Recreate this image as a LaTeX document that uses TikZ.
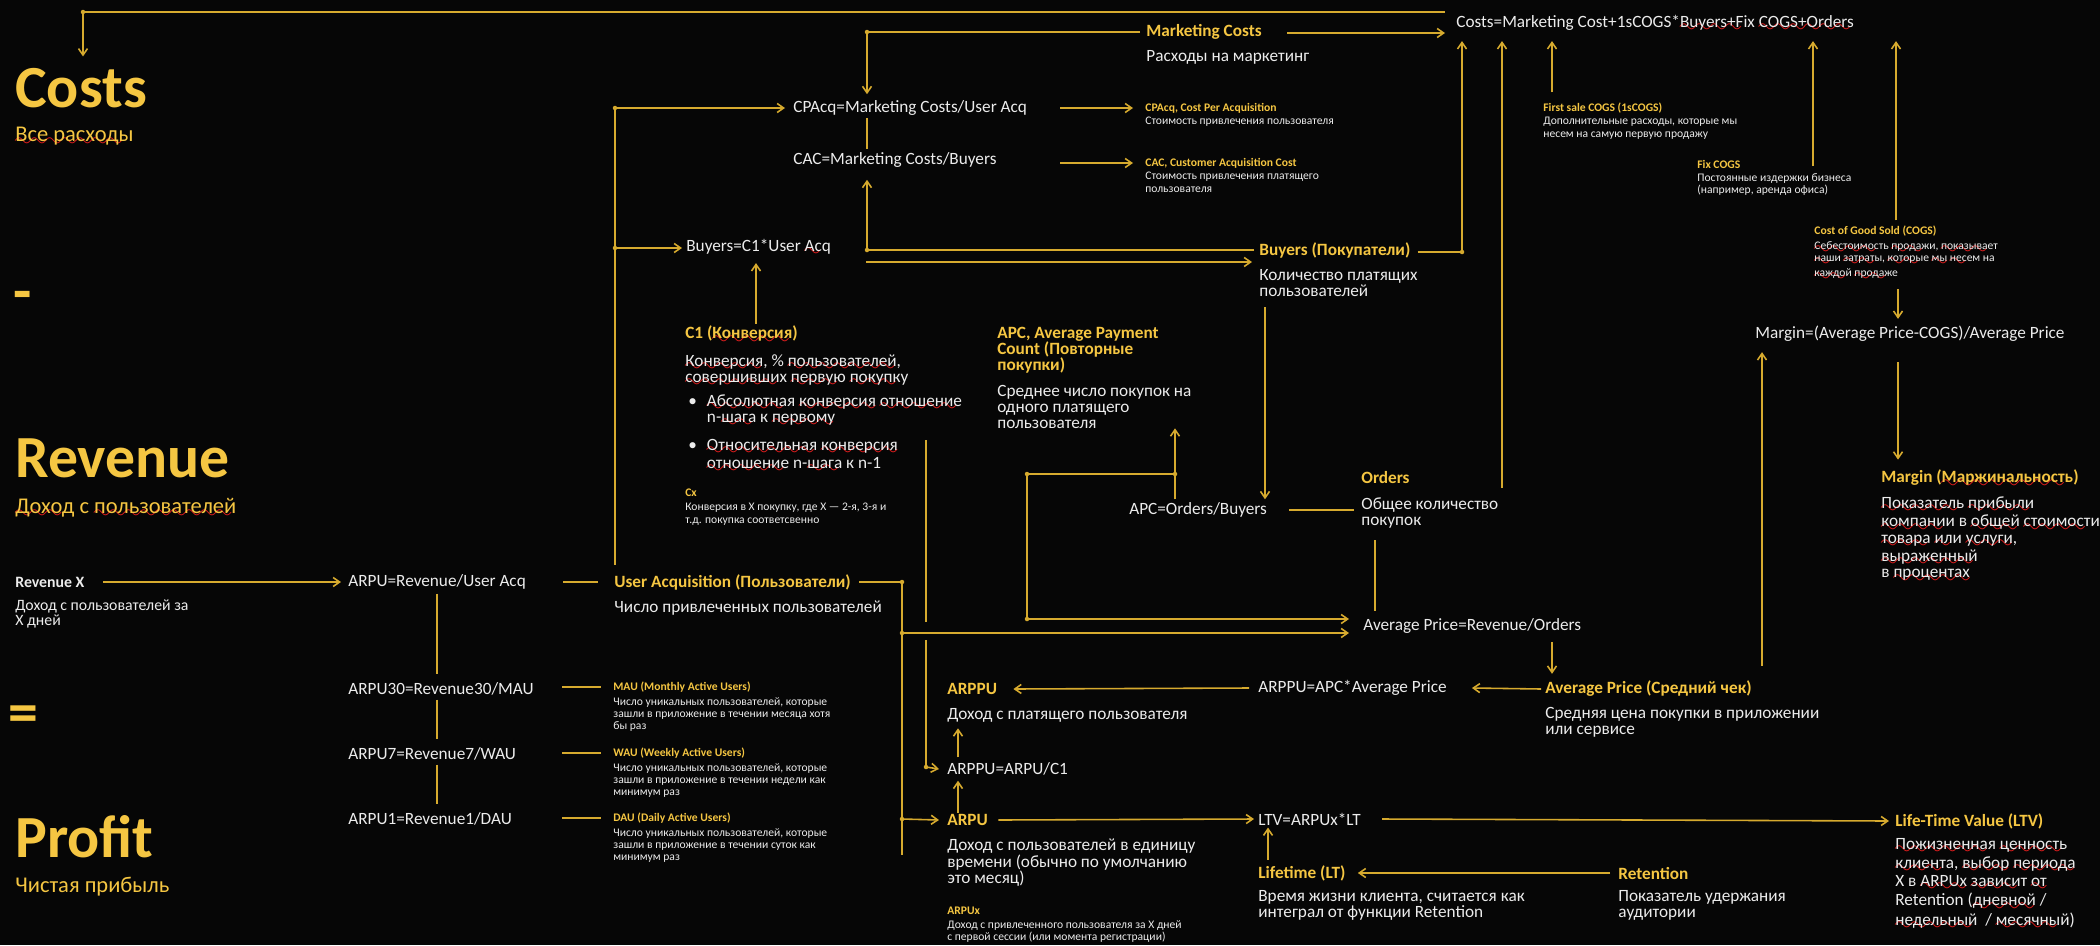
\documentclass[tikz,border=0pt]{standalone}
\usepackage{fontspec}
\setmainfont{Carlito}
\usetikzlibrary{arrows.meta,calc}
\definecolor{bgc}{RGB}{6,6,6}
\definecolor{gold}{RGB}{245,198,66}
\definecolor{goldln}{RGB}{214,170,46}
\definecolor{txt}{RGB}{236,236,236}
\definecolor{spell}{RGB}{230,30,30}
\font\wavyfont=lasy10 at 13pt
\newcommand\spk[1]{\setbox0\hbox{#1}\rlap{\textcolor{spell}{\lower3pt\hbox to\wd0{\leaders\hbox{\wavyfont\char58}\hfil}}}\box0\relax}
\tikzset{
  hd/.style    = {anchor=base west, inner sep=0pt, text=gold,
                  font=\fontsize{34}{36}\selectfont\bfseries},
  hdsub/.style = {anchor=base west, inner sep=0pt, text=gold,
                  font=\fontsize{12.8}{14}\selectfont},
  fm/.style    = {anchor=west, inner sep=0pt, text=txt,
                  font=\fontsize{9.8}{9.2}\selectfont},
  ttl/.style   = {fm, text=gold, font=\fontsize{9.8}{9.2}\selectfont\bfseries},
  dsc/.style   = {anchor=north west, inner sep=0pt, text=txt, align=left,
                  font=\fontsize{9.8}{9.2}\selectfont},
  ttlm/.style  = {dsc, text=gold, font=\fontsize{9.8}{9.2}\selectfont\bfseries},
  rx/.style    = {fm, font=\fontsize{9}{7.4}\selectfont\bfseries},
  rxd/.style   = {dsc, font=\fontsize{9}{7.4}\selectfont},
  nttl/.style  = {fm, text=gold, font=\fontsize{6.6}{7}\selectfont\bfseries},
  ndsc/.style  = {dsc, font=\fontsize{6.6}{7}\selectfont},
  edg/.style   = {draw=goldln, line width=0.9pt},
  arr/.style   = {edg, -{Straight Barb[length=1.3mm,width=1.8mm]}},
}
\begin{document}
\begin{tikzpicture}[x=0.2mm, y=-0.2mm]
  \fill[bgc] (0,0) rectangle (2100,945);
  \useasboundingbox (0,0) rectangle (2100,945);

  % left headings
  \node[hd] (hcost) at (15,107) {Costs};
  \node[hdsub] (hcostd) at (15,141) {\spk{Все расходы}};
  \node[hd] (hminus) at (13,311) {-};
  \node[hd] (hrev) at (15,477) {Revenue};
  \node[hdsub] (hrevd) at (15,513) {\spk{Доход} \spk{с} \spk{пользователей}};
  \node[hd] (heq) at (8,732) {=};
  \node[hd] (hprof) at (15,857) {Profit};
  \node[hdsub] (hprofd) at (15,892) {Чистая прибыль};

  % costs side
  \node[fm] (cst) at (1456,24) {Costs=Marketing Cost+1sCOGS*\spk{Buyers+Fix} \spk{COGS+Orders}};
  \node[ttl] (mkt) at (1146,32) {Marketing Costs};
  \node[fm] (mktd) at (1146,57) {Расходы на маркетинг};
  \node[fm] (cpa) at (793,108) {CPAcq=Marketing Costs/User Acq};
  \node[fm] (cac) at (793,160) {CAC=Marketing Costs/Buyers};
  \node[nttl] (cpan) at (1145,108) {CPAcq, Cost Per Acquisition};
  \node[ndsc] (cpand) at (1145,117) {Стоимость привлечения пользователя};
  \node[nttl] (cacn) at (1145,163) {CAC, Customer Acquisition Cost};
  \node[ndsc] (cacnd) at (1145,172) {Стоимость привлечения платящего\\пользователя};
  \node[nttl] (fsc) at (1543,108) {First sale COGS (1sCOGS)};
  \node[ndsc] (fscd) at (1543,117) {Дополнительные расходы, которые мы\\несем на самую первую продажу};
  \node[nttl] (fix) at (1697,164) {Fix COGS};
  \node[ndsc] (fixd) at (1697,173) {Постоянные издержки бизнеса\\(например, аренда офиса)};
  \node[nttl] (cogs) at (1814,231) {Cost of Good Sold (COGS)};
  \node[ndsc] (cogsd) at (1814,241) {\spk{Себестоимость} \spk{продажи}, \spk{показывает}\\\spk{наши} \spk{затраты}, \spk{которые} \spk{мы} \spk{несем} \spk{на}\\\spk{каждой} \spk{продаже}};

  \node[fm] (byf) at (686,248) {Buyers=C1*User \spk{Acq}};
  \node[ttl] (buy) at (1259,250) {Buyers (Покупатели)};
  \node[dsc] (buyd) at (1259,269) {Количество платящих\\пользователей};

  \node[ttl] (c1) at (685,335) {C1 (\spk{Конверсия})};
  \node[dsc] (c1d) at (685,354) {\spk{Конверсия}, \% \spk{пользователей},\\\spk{совершивших} \spk{первую} \spk{покупку}};
  \node[dsc] (c1b) at (688,394) {\makebox[10.6pt][l]{\textbullet}\spk{Абсолютная} \spk{конверсия} \spk{отношение}\\
    \hspace*{10.6pt}n-\spk{шага} \spk{к} \spk{первому}\\[5.7pt]
    \makebox[10.6pt][l]{\textbullet}\spk{Относительная} \spk{конверсия}\\
    \hspace*{10.6pt}\spk{отношение} n-\spk{шага} \spk{к} n-1};
  \node[nttl] (cx) at (685,493) {Cx};
  \node[ndsc] (cxd) at (685,503) {Конверсия в X покупку, где X — 2-я, 3-я и\\т.д. покупка соответсвенно};

  \node[ttlm] (apc) at (997,327) {APC, Average Payment\\Count (Повторные\\покупки)};
  \node[dsc] (apcd) at (997,385) {Среднее число покупок на\\одного платящего\\пользователя};
  \node[fm] (apcf) at (1129,510) {APC=Orders/Buyers};
  \node[ttl] (ord) at (1361,478) {Orders};
  \node[dsc] (ordd) at (1361,497) {Общее количество\\покупок};
  \node[fm] (avpf) at (1363,626) {Average Price=Revenue/Orders};

  \node[fm] (mrgf) at (1755,334) {Margin=(Average Price-COGS)/Average Price};
  \node[ttl] (mrg) at (1881,479) {Margin (\spk{Маржинальность})};
  \node[dsc] (mrgd) at (1881,496) {\spk{Показатель} \spk{прибыли}\\\spk{компании} \spk{в} \spk{общей} \spk{стоимости}\\
    \spk{товара} \spk{или} \spk{услуги},\\\spk{выраженный}\\\spk{в} \spk{процентах}};

  % revenue side
  \node[rx] (revx) at (15,582) {Revenue X};
  \node[rxd] (revxd) at (15,599) {Доход с пользователей за\\X дней};
  \node[fm] (arpuf) at (348,582) {ARPU=Revenue/User Acq};
  \node[ttl] (ua) at (614,582) {User Acquisition (Пользователи)};
  \node[fm] (uad) at (614,608) {Число привлеченных пользователей};
  \node[fm] (arpu30) at (348,689) {ARPU30=Revenue30/MAU};
  \node[fm] (arpu7) at (348,754) {ARPU7=Revenue7/WAU};
  \node[fm] (arpu1) at (348,819) {ARPU1=Revenue1/DAU};
  \node[nttl] (mau) at (613,687) {MAU (Monthly Active Users)};
  \node[ndsc] (maud) at (613,697) {Число уникальных пользователей, которые\\зашли в приложение в течении месяца хотя\\бы раз};
  \node[nttl] (wau) at (613,753) {WAU (Weekly Active Users)};
  \node[ndsc] (waud) at (613,763) {Число уникальных пользователей, которые\\зашли в приложение в течении недели как\\минимум раз};
  \node[nttl] (dau) at (613,818) {DAU (Daily Active Users)};
  \node[ndsc] (daud) at (613,828) {Число уникальных пользователей, которые\\зашли в приложение в течении суток как\\минимум раз};

  \node[ttl] (arppu) at (947,689) {ARPPU};
  \node[fm] (arppud) at (947,715) {Доход с платящего пользователя};
  \node[fm] (arppuc) at (947,769) {ARPPU=ARPU/C1};
  \node[ttl] (arpu) at (947,820) {ARPU};
  \node[dsc] (arpud) at (947,839) {Доход с пользователей в единицу\\времени (обычно по умолчанию\\это месяц)};
  \node[nttl] (arpux) at (947,911) {ARPUx};
  \node[ndsc] (arpuxd) at (947,920) {Доход с привлеченного пользователя за X дней\\с первой сессии (или момента регистрации)};
  \node[fm] (arppuf) at (1258,688) {ARPPU=APC*Average Price};
  \node[ttl] (avp) at (1545,689) {Average Price (Средний чек)};
  \node[dsc] (avpd) at (1545,707) {Средняя цена покупки в приложении\\или сервисе};
  \node[fm] (ltvf) at (1258,819) {LTV=ARPUx*LT};
  \node[ttl] (ltv) at (1895,821) {Life-Time Value (LTV)};
  \node[dsc] (ltvd) at (1895,838) {\spk{Пожизненная} \spk{ценность}\\\spk{клиента}, \spk{выбор} \spk{периода}\\
    \spk{X} \spk{в} \spk{ARPUx} \spk{зависит} \spk{от}\\Retention (\spk{дневной} /\\\spk{недельный}\ \ / \spk{месячный})};
  \node[ttl] (lt) at (1258,873) {Lifetime (LT)};
  \node[dsc] (ltd) at (1258,890) {Время жизни клиента, считается как\\интеграл от функции Retention};
  \node[ttl] (ret) at (1618,873) {Retention};
  \node[dsc] (retd) at (1618,890) {Показатель удержания\\аудитории};

  % junctions
  \coordinate (jTop) at (83,12);
  \coordinate (jMk) at (867,32);
  \coordinate (jUa) at (615,108);
  \coordinate (jUb) at (615,248);
  \coordinate (jBy) at (867,250);
  \coordinate (jBr) at (1462,252);
  \coordinate (jAp) at (1175,474);
  \coordinate (jAl) at (1027,474);
  \coordinate (jAd) at (1027,619);
  \coordinate (jUr) at (902,582);
  \coordinate (jUm) at (902,633);
  \coordinate (jUd) at (902,819);
  \coordinate (jUe) at (902,855);
  \coordinate (jCa) at (926,440);
  \coordinate (jCd) at (926,767);

  % costs connectors
  \draw[arr] ($(cst.west)+(-11,-12)$) -- (jTop) -- ($(hcost.north west)+(68,-11)$);
  \draw[arr] ($(mkt.east)+(25,1)$) -- ($(cst.west)+(-11,9)$);
  \draw[arr] ($(mkt.west)+(-6,0)$) -- (jMk) -- ($(cpa.north -| jMk)+(0,-6)$);
  \draw[edg] ($(cpa.south -| jMk)+(0,2)$) -- ($(cac.north -| jMk)+(0,-3)$);
  \draw[arr] ($(buy.west)+(-5,0)$) -- (jBy) -- ($(cac.south -| jBy)+(0,12)$);
  \draw[arr] ($(byf.east)+(35,14)$) -- ($(buy.west)+(-7,12)$);
  \draw[arr] ($(ua.north -| jUa)+(0,-9)$) -- (jUa) -- ($(cpa.west)+(-8,0)$);
  \draw[arr] (jUb) -- ($(byf.west)+(-4,0)$);
  \draw[arr] ($(c1.north west)+(71,-2)$) -- ($(byf.south west)+(70,6)$);
  \draw[arr] ($(cpa.east)+(33,0)$) -- ($(cpan.west)+(-12,0)$);
  \draw[arr] ($(cpa.east |- cacn.west)+(33,0)$) -- ($(cacn.west)+(-12,0)$);
  \draw[arr] ($(buy.east)+(7,2)$) -- (jBr) -- ($(cst.south -| jBr)+(0,8)$);
  \draw[arr] ($(ord.west)+(141,10)$) -- ($(cst.south west)+(46,8)$);
  \draw[arr] ($(fsc.north west)+(9,-10)$) -- ($(cst.south west)+(96,8)$);
  \draw[arr] ($(fix.west)+(116,2)$) -- ($(cst.south west)+(357,8)$);
  \draw[arr] ($(cogs.north west)+(82,-5)$) -- ($(cst.south west)+(440,8)$);
  \draw[arr] ($(cogsd.south west)+(84,7)$) -- ($(mrgf.north west)+(143,-7)$);
  \draw[arr] ($(mrgf.south west)+(143,20)$) -- ($(mrg.north west)+(17,-10)$);
  \draw[arr] ($(avp.north west)+(217,-15)$) -- ($(mrgf.south west)+(7,10)$);

  % orders and price
  \draw[arr] ($(buyd.south west)+(6,10)$) -- ($(apcf.north west)+(136,-3)$);
  \draw[edg] ($(apcf.east)+(22,0)$) -- ($(ord.west |- apcf.east)+(-7,0)$);
  \draw[arr] ($(apcf.north -| jAp)+(0,-3)$) -- ($(apcd.south -| jAp)+(0,-1)$);
  \draw[arr] (jAp) -- (jAl) -- (jAd) -- ($(avpf.west)+(-14,-7)$);
  \draw[edg] ($(ordd.south west)+(14,12)$) -- ($(avpf.north west)+(12,-7)$);
  \draw[arr] ($(avpf.south west)+(189,8)$) -- ($(avp.north west)+(7,-7)$);

  % revenue connectors
  \draw[arr] ($(revx.east)+(18,0)$) -- ($(arpuf.west)+(-7,0)$);
  \draw[edg] ($(arpuf.east)+(37,0)$) -- ($(ua.west)+(-16,0)$);
  \foreach \a/\b in {arpuf/arpu30, arpu30/arpu7, arpu7/arpu1}
    \draw[edg] ($(\a.south west)+(89,4)$) -- ($(\b.north west)+(89,-8)$);
  \foreach \b in {mau, wau, dau}
    \draw[edg] ($(\b.west)+(-51,0)$) -- ($(\b.west)+(-12,0)$);
  \draw[edg] ($(ua.east)+(8,0)$) -- (jUr) -- (jUe);
  \draw[arr] (jUm) -- ($(avpf.west)+(-14,7)$);
  \draw[arr] (jUd) -- ($(arpu.west)+(-8,0)$);
  \draw[edg] (jCa) -- ($(jCa |- jUm)+(0,-11)$);
  \draw[arr] ($(jCa |- jUm)+(0,7)$) -- (jCd) -- ($(arppuc.west)+(-8,0)$);
  \draw[arr] ($(arppuc.north west)+(11,-5)$) -- ($(arppud.south west)+(11,6)$);
  \draw[arr] ($(arpu.north west)+(11,-1)$) -- ($(arppuc.south west)+(11,5)$);
  \draw[arr] ($(arppuf.west)+(-9,0)$) -- ($(arppu.east)+(16,0)$);
  \draw[arr] ($(avp.west)+(-4,0)$) -- ($(arppuf.east)+(25,0)$);
  \draw[arr] ($(arpu.east)+(10,0)$) -- ($(ltvf.west)+(-4,0)$);
  \draw[arr] ($(ltvf.east)+(21,0)$) -- ($(ltv.west)+(-6,0)$);
  \draw[arr] ($(lt.north west)+(10,-5)$) -- ($(ltvf.south west)+(10,2)$);
  \draw[arr] ($(ret.west)+(-8,0)$) -- ($(lt.east)+(12,0)$);

  \foreach \j in {jTop,jMk,jUa,jUb,jBy,jBr,jAp,jAl,jAd,jUr,jUm,jUd,jCd}
    \fill[goldln] (\j) circle[radius=0.45mm];
\end{tikzpicture}
\end{document}
